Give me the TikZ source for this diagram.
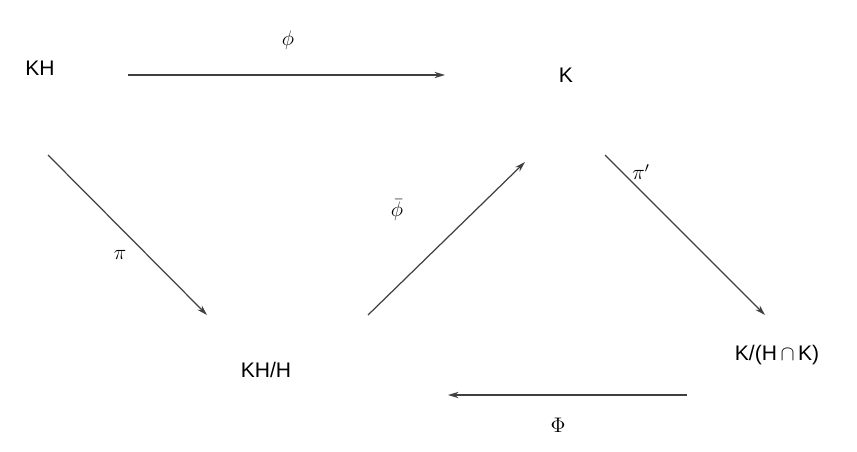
\documentclass[tikz,border=0pt]{standalone}
\usepackage{fontspec}
\setmainfont{Liberation Sans}
\usetikzlibrary{arrows.meta}

\begin{document}
\begin{tikzpicture}[x=0.02cm, y=-0.02cm,
    font=\fontsize{12}{14}\selectfont,
    map/.style={draw=black!75, line width=0.7pt,
      -{Stealth[length=6pt, width=3.6pt]}}]
            \useasboundingbox (0,0) rectangle (857,451);
            \node (kh) at (40,68) {KH};
            \node (k) at (566,75) {K};
            \node (khh) at (266,370) {KH/H};
            \node (kq) at (777,355) {K/(H\,$\cap$\,K)};
            \coordinate (phis) at (128,75);
            \coordinate (phit) at (445,75);
            \coordinate (pis) at (48,155);
            \coordinate (pit) at (207,315);
            \coordinate (bars) at (368,315);
            \coordinate (bart) at (525,162);
            \coordinate (pps) at (605,155);
            \coordinate (ppt) at (765,315);
            \coordinate (bigs) at (687,395);
            \coordinate (bigt) at (448,395);
            \draw[map] (phis) -- (phit);
            \node at (288,40) {$\phi$};
            \draw[map] (pis) -- (pit);
            \node at (120,255) {$\pi$};
            \draw[map] (bars) -- (bart);
            \node at (397,210) {$\bar{\phi}$};
            \draw[map] (pps) -- (ppt);
            \node at (641,172) {$\pi'$};
            \draw[map] (bigs) -- (bigt);
            \node at (558,425) {$\Phi$};
        \end{tikzpicture}
\end{document}
